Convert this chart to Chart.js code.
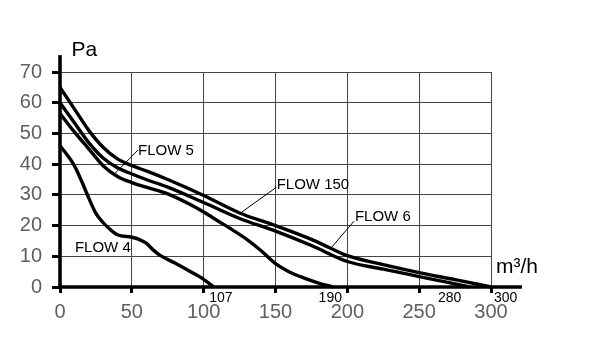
<!DOCTYPE html>
<html>
<head>
<meta charset="utf-8">
<script src="https://cdn.jsdelivr.net/npm/chart.js@4.4.1/dist/chart.umd.min.js"></script>
<style>
html,body{margin:0;padding:0;background:#fff;}
#c{display:block;}
</style>
</head>
<body>
<canvas id="c" width="592" height="355"></canvas>
<script>
// ---- data ----
const xTicks = [0, 50, 100, 150, 200, 250, 300];
const yTicks = [0, 10, 20, 30, 40, 50, 60, 70];

const flow6X = [0, 10, 20, 30, 40, 50, 60, 75, 100, 125, 150, 175, 188, 200, 225, 250, 275, 300];
const flow6Y = [65, 58, 51, 45.5, 41.7, 39.5, 37.8, 35, 29.8, 24.1, 20, 15.5, 12.7, 10.2, 7.3, 4.7, 2.4, 0];

const flow150X = [0, 10, 20, 30, 40, 50, 60, 75, 100, 125, 150, 175, 200, 225, 250, 270, 285];
const flow150Y = [60, 53.5, 47, 42, 38.8, 36.8, 35, 32.5, 27.5, 22.3, 18.2, 13.5, 8.3, 5.8, 3.4, 1.5, 0];

const flow5X = [0, 10, 20, 30, 40, 50, 60, 75, 90, 100, 110, 120, 130, 140, 150, 160, 170, 180, 190];
const flow5Y = [56.5, 50.5, 45, 39.5, 36, 34, 32.5, 30.3, 27, 24.4, 21.5, 18.6, 15.5, 11.8, 7.6, 4.8, 2.9, 1.3, 0];

const flow4X = [0, 5, 10, 15, 20, 25, 30, 35, 40, 50, 55, 60, 65, 70, 80, 90, 100, 107];
const flow4Y = [46, 43, 39.5, 34.5, 29, 24, 21, 18.7, 17, 16.2, 15.5, 14.3, 12, 10.2, 7.8, 5.2, 2.5, 0];

const curveLabels = ["FLOW 6", "FLOW 150", "FLOW 5", "FLOW 4"];
const endValues = ["107", "190", "280", "300"];
const endValueX = [107, 190, 280, 300];
const yTitle = "Pa";
const xTitle = "m³/h";

function pts(xs, ys){ return xs.map((x,i)=>({x:x, y:ys[i]})); }

const lineStyle = {borderColor:'#000', borderWidth:3.4, pointRadius:0, fill:false,
  cubicInterpolationMode:'monotone', clip:false};

const annot = {
  id:'annot',
  afterDatasetsDraw(chart){
    const ctx = chart.ctx, xs = chart.scales.x, ys = chart.scales.y;
    const X = v => xs.getPixelForValue(v), Y = v => ys.getPixelForValue(v);
    ctx.save();
    // axes (extended beyond the grid)
    ctx.strokeStyle = '#000'; ctx.lineWidth = 3.6; ctx.lineCap = 'butt';
    ctx.beginPath(); ctx.moveTo(X(0), Y(0)); ctx.lineTo(X(0), Y(75.5)); ctx.stroke();
    ctx.beginPath(); ctx.moveTo(X(0)-1.8, Y(0)); ctx.lineTo(X(321.5), Y(0)); ctx.stroke();
    // leader lines
    ctx.lineWidth = 1;
    const leaders = [[54.3,44.6,38.3,37], [150.7,32.5,125.3,24], [204.6,21.4,187.9,12.3]];
    leaders.forEach(l=>{ ctx.beginPath(); ctx.moveTo(X(l[0]),Y(l[1])); ctx.lineTo(X(l[2]),Y(l[3])); ctx.stroke(); });
    // curve labels
    ctx.fillStyle = '#000';
    ctx.font = '15px "Liberation Sans", Arial, sans-serif';
    ctx.textBaseline = 'alphabetic'; ctx.textAlign = 'left';
    ctx.fillText(curveLabels[2], X(54.3), Y(42.9));
    ctx.fillText(curveLabels[3], X(10.4), Y(11.3));
    ctx.fillText(curveLabels[1], X(150.8), Y(32));
    ctx.fillText(curveLabels[0], X(205.3), Y(21.5));
    // end values
    ctx.font = '14px "Liberation Sans", Arial, sans-serif';
    ctx.textAlign = 'left';  ctx.fillText(endValues[0], X(endValueX[0])-4.5, Y(-4.9));
    ctx.textAlign = 'right'; ctx.fillText(endValues[1], X(endValueX[1])+9, Y(-4.9));
    ctx.textAlign = 'right'; ctx.fillText(endValues[2], X(endValueX[2])-1, Y(-4.9));
    ctx.textAlign = 'left';  ctx.fillText(endValues[3], X(endValueX[3])+3, Y(-4.9));
    // axis titles
    ctx.font = '21px "Liberation Sans", Arial, sans-serif';
    ctx.textAlign = 'left';
    ctx.fillText(yTitle, X(8.0), Y(75.1));
    ctx.fillText(xTitle, X(303.5), Y(4.5));
    ctx.restore();
  }
};

const tickFont = {family:'"Liberation Sans", Arial, sans-serif', size:20};

new Chart(document.getElementById('c'), {
  type:'line',
  data:{ datasets:[
    Object.assign({label:curveLabels[0], data:pts(flow6X, flow6Y)}, lineStyle),
    Object.assign({label:curveLabels[1], data:pts(flow150X, flow150Y)}, lineStyle),
    Object.assign({label:curveLabels[2], data:pts(flow5X, flow5Y)}, lineStyle),
    Object.assign({label:curveLabels[3], data:pts(flow4X, flow4Y)}, lineStyle)
  ]},
  options:{
    responsive:false, animation:false, devicePixelRatio:1,
    layout:{padding:{top:72, right:101, left:0, bottom:0}},
    plugins:{legend:{display:false}, tooltip:{enabled:false}},
    scales:{
      x:{ type:'linear', min:0, max:300,
        afterBuildTicks(s){ s.ticks = xTicks.map(v=>({value:v})); },
        afterFit(s){ s.height = 68; },
        border:{display:false},
        grid:{color:'#444', lineWidth:1, tickLength:6, tickColor:'#000', tickWidth:3},
        ticks:{color:'#606060', font:tickFont, padding:7, maxRotation:0, autoSkip:false}
      },
      y:{ type:'linear', min:0, max:70,
        afterBuildTicks(s){ s.ticks = yTicks.map(v=>({value:v})); },
        afterFit(s){ s.width = 60; },
        border:{display:false},
        grid:{color:'#444', lineWidth:1, tickLength:8, tickColor:'#000', tickWidth:3},
        ticks:{color:'#606060', font:tickFont, padding:10, autoSkip:false}
      }
    }
  },
  plugins:[annot]
});
</script>
</body>
</html>
